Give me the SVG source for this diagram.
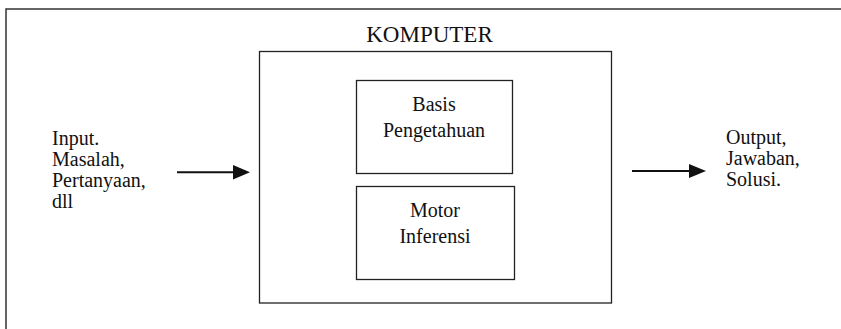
<svg xmlns="http://www.w3.org/2000/svg" width="841" height="329" viewBox="0 0 841 329">
<style>
text{font-family:'Liberation Serif','Times New Roman',serif;font-size:20px;fill:#111}
.c{text-anchor:middle}
.box{fill:#fff;stroke:#222;stroke-width:1.3}
.ln{stroke:#111;stroke-width:2;fill:none}
.hd{fill:#111}
</style>
<rect width="841" height="329" fill="#fff"/>
<g id="frame">
<path d="M6 329 V9 H841" fill="none" stroke="#333" stroke-width="1.5"/>
</g>
<g id="komputer">
<rect class="box" x="259.5" y="51.5" width="352" height="251.5"/>
<text class="c" x="429.5" y="42" style="font-size:23px">KOMPUTER</text>
</g>
<g id="basis">
<rect class="box" x="356.5" y="80.5" width="156" height="93"/>
<text class="c" x="434" y="111">Basis</text>
<text class="c" x="434" y="137">Pengetahuan</text>
</g>
<g id="motor">
<rect class="box" x="356.5" y="186.5" width="158" height="93"/>
<text class="c" x="435" y="217">Motor</text>
<text class="c" x="435" y="243">Inferensi</text>
</g>
<g id="input">
<text x="52" y="145">Input.</text>
<text x="52" y="166">Masalah,</text>
<text x="52" y="187">Pertanyaan,</text>
<text x="52" y="208">dll</text>
</g>
<g id="output">
<text x="726" y="144">Output,</text>
<text x="726" y="165">Jawaban,</text>
<text x="726" y="186">Solusi.</text>
</g>
<g id="connectors">
<line class="ln" x1="177" y1="172.3" x2="236" y2="172.3"/>
<polygon class="hd" points="233,165 250,172.3 233,179.6"/>
<line class="ln" x1="632" y1="171" x2="691" y2="171"/>
<polygon class="hd" points="689,164 706,171 689,178"/>
</g>
</svg>
